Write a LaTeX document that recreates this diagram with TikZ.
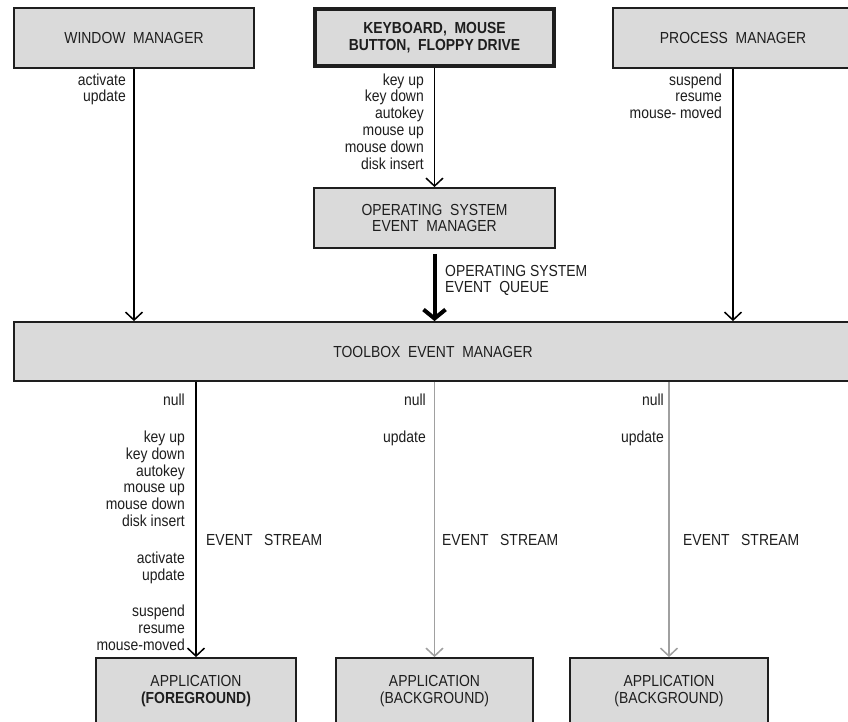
\documentclass[tikz,border=0pt]{standalone}
\usepackage{fontspec}
\setmainfont{Liberation Sans}[FakeStretch=0.87]
\usetikzlibrary{arrows.meta}
\definecolor{boxfill}{HTML}{DADADA}
\definecolor{ink}{HTML}{1E1E1E}
\definecolor{lightline}{HTML}{A0A0A0}
\newcommand\dgfont{\fontsize{16}{16.8}\selectfont}
\begin{document}
\begin{tikzpicture}[x=1pt,y=-1pt,
  box/.style={draw=ink, line width=1.8pt, fill=boxfill, text=ink, align=center, inner sep=0pt, font=\dgfont},
  lbl/.style={align=right, inner sep=0pt, font=\dgfont, text=ink, anchor=north east},
  lblw/.style={align=left, inner sep=0pt, font=\dgfont, text=ink, anchor=north west},
  conn/.style={draw=black, line width=1.5pt, -{Straight Barb[length=8pt,width=17pt]}},
  grayconn/.style={conn, draw=lightline},
  thickconn/.style={draw=black, line width=4pt, -{Straight Barb[length=9pt,width=22pt]}}
]
\useasboundingbox (0,0) rectangle (848,721);
\fill[white] (0,0) rectangle (848,721);

% top row
\node[box, minimum width=240pt, minimum height=60pt] (wm) at (134,38) {WINDOW~ MANAGER};
\node[box, line width=3.5pt, minimum width=239pt, minimum height=57pt, font=\dgfont\bfseries] (kb) at (434.5,37.5) {KEYBOARD,~ MOUSE\\BUTTON,~ FLOPPY DRIVE};
\node[box, minimum width=240pt, minimum height=60pt] (pm) at (733,38) {PROCESS~ MANAGER};

% OS event manager
\node[box, minimum width=241pt, minimum height=60pt] (os) at (434.5,218) {OPERATING~ SYSTEM\\EVENT~ MANAGER};

% toolbox
\node[box, minimum width=838pt, minimum height=59pt] (tb) at (433,351.5) {TOOLBOX~ EVENT~ MANAGER};

% applications
\node[box, minimum width=200pt, minimum height=66pt] (fg) at (196,691) {APPLICATION\\\textbf{(FOREGROUND)}};
\node[box, minimum width=197pt, minimum height=66pt] (bga) at (434.5,691) {APPLICATION\\(BACKGROUND)};
\node[box, minimum width=198pt, minimum height=66pt] (bgb) at (669,691) {APPLICATION\\(BACKGROUND)};

% connectors
\draw[conn] (wm.south) -- (wm.south |- tb.north);
\draw[conn] (kb.south) -- (os.north);
\draw[thickconn, shorten <=5pt] (os.south) -- (os.south |- tb.north);
\draw[conn] (pm.south) -- (pm.south |- tb.north);
\draw[conn] (fg.north |- tb.south) -- (fg.north);
\draw[grayconn] (bga.north |- tb.south) -- (bga.north);
\draw[grayconn] (bgb.north |- tb.south) -- (bgb.north);

% labels (north anchor = first baseline - 11.76)
\node[lbl] (wml) at (126,73.2) {\strut activate\\update};
\node[lbl] (kbl) at (424,73.2) {\strut key up\\key down\\autokey\\mouse up\hspace{3pt}\\mouse down\\disk insert};
\node[lbl] (pml) at (722,73.2) {\strut suspend\\resume\\mouse- moved};
\node[lblw] (osl) at (445,264.2) {\strut OPERATING SYSTEM\\EVENT~ QUEUE};

\node[lbl] (fgl) at (185,393.7) {\strut null\\[20pt]key up\\key down\\autokey\\mouse up\hspace{3pt}\\mouse down\\disk insert\\[20pt]activate\\update\\[20pt]suspend\hspace{3pt}\\resume\\mouse-moved};
\node[lbl] (bgal) at (426,393.7) {\strut null\\[20pt]update};
\node[lbl] (bgbl) at (664,393.7) {\strut null\\[20pt]update};

\node[lblw, anchor=base west] (fges) at (206,545) {EVENT~~ STREAM};
\node[lblw, anchor=base west] (bgaes) at (442,545) {EVENT~~ STREAM};
\node[lblw, anchor=base west] (bgbes) at (683,545) {EVENT~~ STREAM};
\end{tikzpicture}
\end{document}
